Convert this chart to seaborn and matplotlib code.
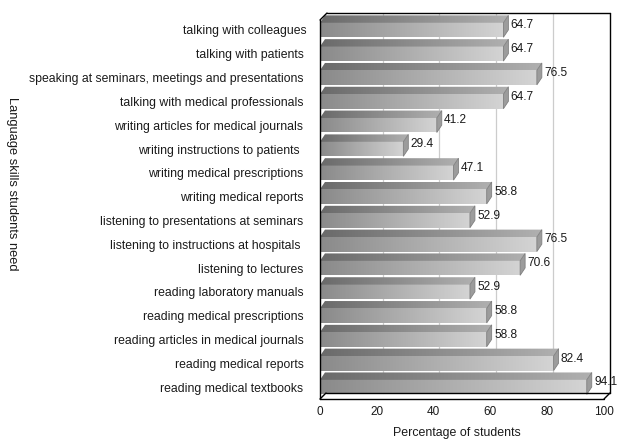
import numpy as np
import pandas as pd
import seaborn as sns
import matplotlib.pyplot as plt
from matplotlib.colors import LinearSegmentedColormap
from matplotlib.patches import Polygon

# data
skills = [
    'talking with colleagues',
    'talking with patients ',
    'speaking at seminars, meetings and presentations ',
    'talking with medical professionals ',
    'writing articles for medical journals ',
    'writing instructions to patients  ',
    'writing medical prescriptions ',
    'writing medical reports ',
    'listening to presentations at seminars ',
    'listening to instructions at hospitals  ',
    'listening to lectures ',
    'reading laboratory manuals ',
    'reading medical prescriptions ',
    'reading articles in medical journals ',
    'reading medical reports ',
    'reading medical textbooks ',
]
percent = [64.7, 64.7, 76.5, 64.7, 41.2, 29.4, 47.1, 58.8,
           52.9, 76.5, 70.6, 52.9, 58.8, 58.8, 82.4, 94.1]
xticks = [0, 20, 40, 60, 80, 100]

df = pd.DataFrame({'skill': skills, 'pct': percent})

sns.set_style('white')
plt.rcParams['font.family'] = ['Liberation Sans', 'DejaVu Sans']

fig = plt.figure(figsize=(6.17, 4.41), dpi=100)
ax = fig.add_axes([320 / 617, 42 / 441, 283.5 / 617, 386 / 441])

front_cmap = LinearSegmentedColormap.from_list('front', ['#8a8a8a', '#d4d4d4'])
top_cmap = LinearSegmentedColormap.from_list('top', ['#6a6a6a', '#b0b0b0'])

sns.barplot(data=df, x='pct', y='skill', orient='h', width=0.61,
            color='#aaaaaa', ax=ax, zorder=2)

ax.set_xlim(0, 100)
ax.set_ylim(15.5, -0.714)

# depth of the 3d bars in data units
dx, dy = 1.75, 0.31
grad = np.linspace(0, 1, 256).reshape(1, -1)

for patch, val in zip(ax.patches, percent):
    x0, y0 = patch.get_x(), patch.get_y()
    w, h = patch.get_width(), patch.get_height()
    patch.set_facecolor('none')
    patch.set_edgecolor('none')
    # front face
    ax.imshow(grad, cmap=front_cmap, aspect='auto', zorder=3,
              extent=(x0, x0 + w, y0 + h, y0), interpolation='bilinear')
    # top face
    top = Polygon([(x0, y0), (x0 + dx, y0 - dy), (x0 + w + dx, y0 - dy), (x0 + w, y0)],
                  closed=True, facecolor='none', edgecolor='none')
    ax.add_patch(top)
    im = ax.imshow(grad, cmap=top_cmap, aspect='auto', zorder=3,
                   extent=(x0, x0 + w + dx, y0, y0 - dy), interpolation='bilinear')
    im.set_clip_path(top)
    # end cap
    cap = Polygon([(x0 + w, y0), (x0 + w + dx, y0 - dy), (x0 + w + dx, y0 + h - dy), (x0 + w, y0 + h)],
                  closed=True, facecolor='#9c9c9c', edgecolor='#808080', lw=0.6, zorder=4)
    ax.add_patch(cap)
    ax.text(val + 2.6, y0 + h / 2 - 0.2, f'{val}', fontsize=8.6, va='center', ha='left',
            color='#1a1a1a', zorder=5)

ax.set_xlim(0, 100)
ax.set_ylim(15.5, -0.714)

# back wall grid lines
for v in xticks[1:-1]:
    ax.plot([v + 2.1, v + 2.1], [-0.714, 15.25], color='#cccccc', lw=0.9, zorder=1)

# 3d frame
def fx(px):
    return (px - 320) / 283.5

def fy(py):
    return (399 - py) / 386

frame = [
    ([0, 0], [fy(399), fy(20)]),
    ([0, fx(327)], [fy(20), fy(13)]),
    ([fx(327), fx(610)], [fy(13), fy(13)]),
    ([fx(610), fx(610)], [fy(13), fy(393)]),
    ([fx(610), fx(604)], [fy(393), fy(399)]),
    ([0, fx(604)], [fy(399), fy(399)]),
    ([0, fx(326)], [fy(399), fy(393)]),
    ([fx(326), fx(610)], [fy(393), fy(393)]),
]
for xs, ys in frame:
    ax.plot(xs, ys, color='black', lw=1.0, transform=ax.transAxes, clip_on=False, zorder=6)

for s in ax.spines.values():
    s.set_visible(False)

ax.set_xticks(xticks)
ax.set_xticklabels([str(t) for t in xticks])
ax.tick_params(axis='x', length=0, pad=5, labelsize=8.5, labelcolor='#1a1a1a')
ax.tick_params(axis='y', length=0, pad=9.5, labelsize=8.8, labelcolor='#1a1a1a')
ax.set_xlabel('')
ax.set_ylabel('')

fig.text(457 / 617, 1 - 433 / 441, 'Percentage of students', fontsize=8.9,
         ha='center', va='center', color='#1a1a1a')
fig.text(12 / 617, 1 - 183.5 / 441, 'Language skills students need', fontsize=9.3,
         rotation=270, ha='center', va='center', color='#1a1a1a')

fig.savefig('out.png', dpi=100)
